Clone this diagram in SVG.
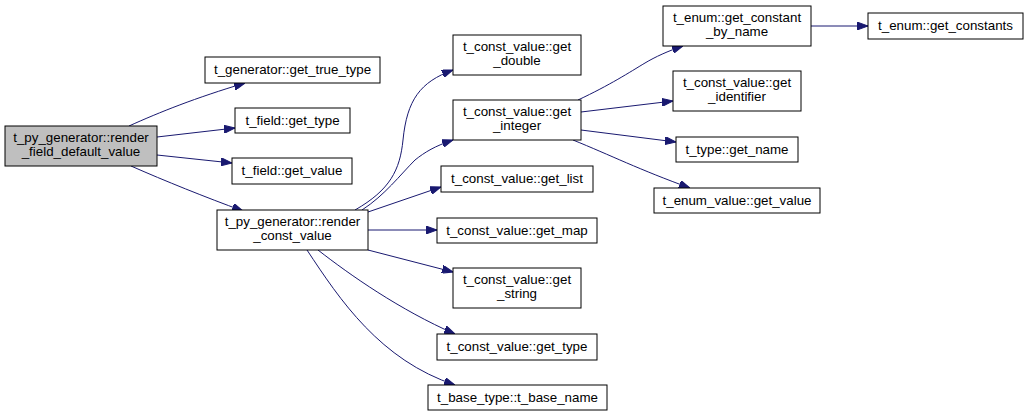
<svg xmlns="http://www.w3.org/2000/svg" width="1028" height="417" viewBox="0 0 1028 417">
<style>
.n rect{fill:#fff;stroke:#000;stroke-width:1}
.n.root rect{fill:#bfbfbf}
text{font-family:"Liberation Sans",Arial,sans-serif;font-size:13.33px;text-anchor:middle;fill:#000}
.e path{fill:none;stroke:#191970;stroke-width:1}
</style>
<defs>
<marker id="a" markerUnits="userSpaceOnUse" markerWidth="11" markerHeight="8" refX="11" refY="4" orient="auto">
<path d="M0,0 L11,4 L0,8 z" fill="#191970" stroke="#191970"/>
</marker>
</defs>
<rect width="1028" height="417" fill="#fff"/>
<g class="e" marker-end="url(#a)">
<path d="M129,126 C160,112 195,98 245,83" marker-end="url(#a)"/>
<path d="M157,137 L235,128" marker-end="url(#a)"/>
<path d="M157,155 L232,163" marker-end="url(#a)"/>
<path d="M131,166 C165,181 205,197 243,211" marker-end="url(#a)"/>
<path d="M355,210 C390,190 400,170 403,140 C407,100 420,82 453,70" marker-end="url(#a)"/>
<path d="M362,210 C385,195 400,175 415,160 C425,152 435,146 453,140" marker-end="url(#a)"/>
<path d="M368,212 L441,187" marker-end="url(#a)"/>
<path d="M368,230 L437,230" marker-end="url(#a)"/>
<path d="M368,250 L453,272" marker-end="url(#a)"/>
<path d="M318,250 C350,275 400,310 455,334" marker-end="url(#a)"/>
<path d="M307,250 C340,300 380,360 455,385" marker-end="url(#a)"/>
<path d="M578,100 C610,85 630,72 645,63 C655,57 668,51 683,46" marker-end="url(#a)"/>
<path d="M581,112 L673,101" marker-end="url(#a)"/>
<path d="M581,130 L676,142" marker-end="url(#a)"/>
<path d="M573,140 C610,155 640,170 690,188" marker-end="url(#a)"/>
<path d="M811,26 L868,26" marker-end="url(#a)"/>
</g>
<g id="root" class="n root"><rect x="5" y="126" width="152" height="40"/><text x="81" y="142">t_py_generator::render</text><text x="81" y="156">_field_default_value</text></g>
<g id="get_true_type" class="n"><rect x="205" y="57" width="175" height="26"/><text x="292.5" y="74">t_generator::get_true_type</text></g>
<g id="field_get_type" class="n"><rect x="235" y="108" width="115" height="25"/><text x="292.5" y="125">t_field::get_type</text></g>
<g id="field_get_value" class="n"><rect x="232" y="158" width="120" height="26"/><text x="292" y="175">t_field::get_value</text></g>
<g id="render_const_value" class="n"><rect x="217" y="210" width="151" height="40"/><text x="292.5" y="226">t_py_generator::render</text><text x="292.5" y="240">_const_value</text></g>
<g id="get_double" class="n"><rect x="453" y="35" width="128" height="40"/><text x="517" y="51">t_const_value::get</text><text x="517" y="65">_double</text></g>
<g id="get_integer" class="n"><rect x="453" y="100" width="128" height="40"/><text x="517" y="116">t_const_value::get</text><text x="517" y="130">_integer</text></g>
<g id="get_list" class="n"><rect x="441" y="166" width="152" height="26"/><text x="517" y="183">t_const_value::get_list</text></g>
<g id="get_map" class="n"><rect x="437" y="218" width="160" height="25"/><text x="517" y="235">t_const_value::get_map</text></g>
<g id="get_string" class="n"><rect x="453" y="268" width="128" height="40"/><text x="517" y="284">t_const_value::get</text><text x="517" y="298">_string</text></g>
<g id="cv_get_type" class="n"><rect x="437" y="334" width="160" height="26"/><text x="517" y="351">t_const_value::get_type</text></g>
<g id="t_base_name" class="n"><rect x="428" y="385" width="179" height="25"/><text x="517.5" y="402">t_base_type::t_base_name</text></g>
<g id="get_constant_by_name" class="n"><rect x="663" y="6" width="148" height="40"/><text x="737" y="22">t_enum::get_constant</text><text x="737" y="36">_by_name</text></g>
<g id="get_identifier" class="n"><rect x="673" y="71" width="128" height="40"/><text x="737" y="87">t_const_value::get</text><text x="737" y="101">_identifier</text></g>
<g id="get_name" class="n"><rect x="676" y="137" width="122" height="25"/><text x="737" y="154">t_type::get_name</text></g>
<g id="enum_get_value" class="n"><rect x="654" y="188" width="166" height="25"/><text x="737" y="205">t_enum_value::get_value</text></g>
<g id="get_constants" class="n"><rect x="868" y="13" width="155" height="26"/><text x="945.5" y="30">t_enum::get_constants</text></g>
</svg>
